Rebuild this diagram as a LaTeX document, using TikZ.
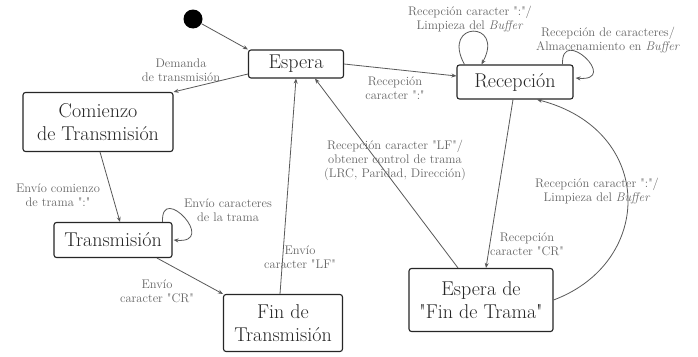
\documentclass[tikz,border=0pt]{standalone}
\usetikzlibrary{arrows.meta}
\newcommand\qd{\textquotedbl}
\begin{document}
\begin{tikzpicture}[x=1pt,y=-1pt,
  state/.style={draw=black!85,line width=1.1pt,rounded corners=2.5pt,align=center,inner sep=0pt,font=\fontsize{20}{23}\selectfont,text=black!85},
  edge/.style={draw=black!65,line width=0.8pt,-{Stealth[length=5pt,width=4pt]}},
  lbl/.style={font=\fontsize{12.5}{14}\selectfont,text=black!60,align=center,inner sep=1pt}]
\useasboundingbox (0,0) rectangle (698,356);
\fill[white] (0,0) rectangle (698,356);
% nodes
\node[circle,fill=black,minimum size=19pt,inner sep=0pt] (init) at (193,19) {};
\node[state,minimum width=95pt,minimum height=28pt] (esp) at (296,64) {Espera};
\node[state,minimum width=116pt,minimum height=34pt] (rec) at (515,82) {Recepción};
\node[state,minimum width=150pt,minimum height=59pt] (com) at (98,122) {Comienzo\\de Transmisión};
\node[state,minimum width=118pt,minimum height=35pt] (tx) at (113,240) {Transmisión};
\node[state,minimum width=119pt,minimum height=57pt] (fin) at (283,323) {Fin de\\Transmisión};
\node[state,minimum width=144pt,minimum height=63pt] (efin) at (481,300) {Espera de\\\qd Fin de Trama\qd};
% edges
\draw[edge] (init) -- (esp.north west);
\draw[edge] ([yshift=-10pt]esp.west) -- (com.north east);
\draw[edge] (esp.east) -- ([yshift=6pt]rec.west);
\draw[edge] ([xshift=8pt]rec.north west) .. controls +(-24,-44) and +(24,-44) .. ([xshift=25pt]rec.north west);
\draw[edge] ([xshift=-11pt]rec.north east) .. controls +(-2,-40) and +(45,4) .. ([xshift=2pt,yshift=4pt]rec.east);
\draw[edge] ([xshift=-2pt]rec.south) -- ([xshift=5pt]efin.north);
\draw[edge] (efin.east) .. controls (655,262) and (655,130) .. ([xshift=22pt]rec.south);
\draw[edge] ([xshift=-23pt]efin.north) -- ([xshift=19pt]esp.south);
\draw[edge] ([xshift=-3pt]fin.north) -- (esp.south);
\draw[edge] ([xshift=2pt]com.south) -- ([xshift=7pt]tx.north);
\draw[edge] ([xshift=-10pt]tx.north east) .. controls +(-2,-40) and +(45,4) .. ([xshift=1pt]tx.east);
\draw[edge] ([xshift=44pt]tx.south) -- (fin.north west);
% labels
\node[lbl] (l1) at (181,70) {Demanda\\de transmisión};
\node[lbl] (l2) at (395,88) {Recepción\\caracter \qd:\qd};
\node[lbl] (l3) at (470,19) {Recepción caracter \qd:\qd/\\Limpieza del \emph{Buffer}};
\node[lbl] (l4) at (608,40) {Recepción de caracteres/\\Almacenamiento en \emph{Buffer}};
\node[lbl] (l5) at (527,244) {Recepción\\caracter \qd CR\qd};
\node[lbl] (l6) at (597,191) {Recepción caracter \qd:\qd/\\Limpieza del \emph{Buffer}};
\node[lbl] (l7) at (395,160) {Recepción caracter \qd LF\qd/\\obtener control de trama\\(LRC, Paridad, Dirección)};
\node[lbl] (l8) at (300,257) {Envío\\caracter \qd LF\qd};
\node[lbl] (l9) at (58,195) {Envío comienzo\\de trama \qd:\qd};
\node[lbl] (l10) at (228,210) {Envío caracteres\\de la trama};
\node[lbl] (l11) at (157,291) {Envío\\caracter \qd CR\qd};
\end{tikzpicture}
\end{document}
